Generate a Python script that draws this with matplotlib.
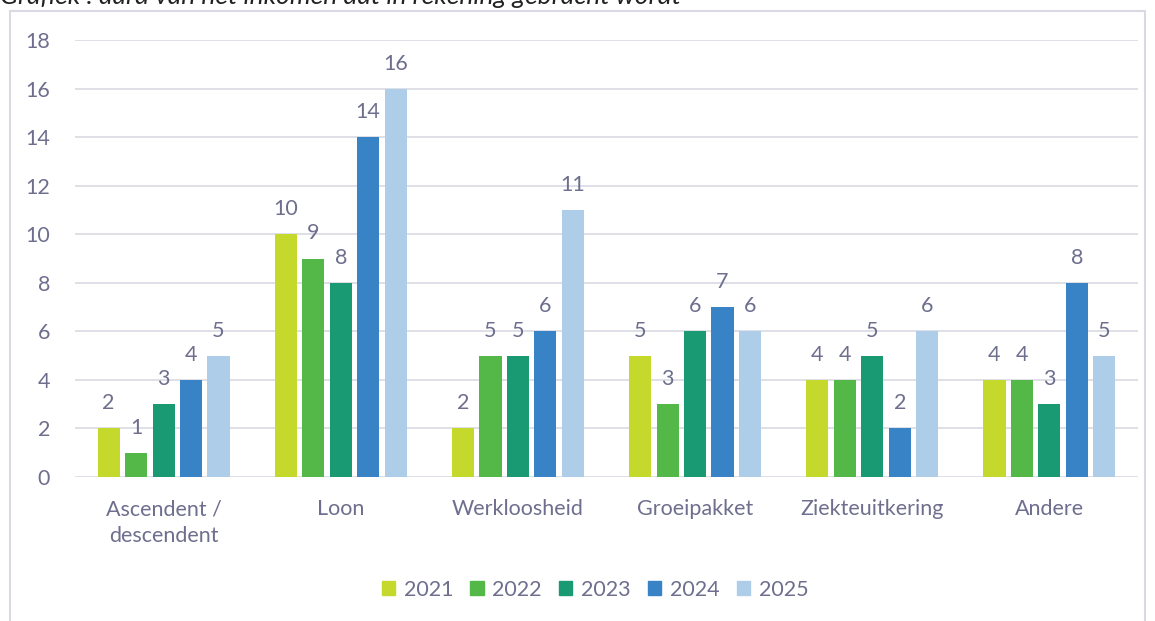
import matplotlib.pyplot as plt
import matplotlib.patches as mpatches
import numpy as np

categories = ['Ascendent /\ndescendent', 'Loon', 'Werkloosheid', 'Groeipakket', 'Ziekteuitkering', 'Andere']
years = ['2021', '2022', '2023', '2024', '2025']
v2021 = [2, 10, 2, 5, 4, 4]
v2022 = [1, 9, 5, 3, 4, 4]
v2023 = [3, 8, 5, 6, 5, 3]
v2024 = [4, 14, 6, 7, 2, 8]
v2025 = [5, 16, 11, 6, 6, 5]
series = [v2021, v2022, v2023, v2024, v2025]
colors = ['#C5D92D', '#53B848', '#1A9A72', '#3883C5', '#AECDE8']

txt = '#6E6E8E'
fs = 15.5
plt.rcParams['font.family'] = ['Lato', 'DejaVu Sans']

fig = plt.figure(figsize=(11.55, 6.21), dpi=100)
ax = fig.add_axes([75 / 1155, 1 - 477 / 621, 1063 / 1155, 437 / 621])

# outer frame of the chart box
frame = mpatches.Rectangle((10 / 1155, -0.05), 1135 / 1155, 1 - 10.5 / 621 + 0.05,
                           transform=fig.transFigure, fill=False,
                           edgecolor='#D9D9E3', linewidth=1.5)
fig.patches.append(frame)

x = np.arange(len(categories))
step = 0.155
bw = 0.125
for i, (vals, c) in enumerate(zip(series, colors)):
    pos = x + (i - 2) * step
    bars = ax.bar(pos, vals, width=bw, color=c, label=years[i], zorder=3)
    for b, v in zip(bars, vals):
        ax.text(b.get_x() + b.get_width() / 2, v + 0.62, str(v),
                ha='center', va='bottom', fontsize=fs, color=txt)

ax.set_xlim(-0.5, len(categories) - 0.5)
ax.set_ylim(0, 18)
ax.set_yticks(range(0, 19, 2))
ax.set_xticks(x)
ax.set_xticklabels(categories, fontsize=fs, color=txt, linespacing=1.4)
ax.tick_params(axis='y', labelsize=fs, labelcolor=txt, length=0, pad=18)
ax.tick_params(axis='x', length=0, pad=16)
ax.grid(axis='y', color='#D9D9E3', linewidth=1.2, zorder=0)
for s in ax.spines.values():
    s.set_visible(False)

handles = [mpatches.Patch(color=c, label=y) for c, y in zip(colors, years)]
fig.legend(handles=handles, loc='center', bbox_to_anchor=(595 / 1155, 1 - 590 / 621),
           ncol=5, frameon=False, fontsize=fs, labelcolor=txt,
           handlelength=0.62, handleheight=0.62, handletextpad=0.4, columnspacing=0.8)

fig.text(0.0, 1 - 4 / 621, 'Grafiek : aard van het inkomen dat in rekening gebracht wordt',
         fontsize=19, style='italic', color='#222222', ha='left', va='baseline')

plt.savefig('out.png', dpi=100)
